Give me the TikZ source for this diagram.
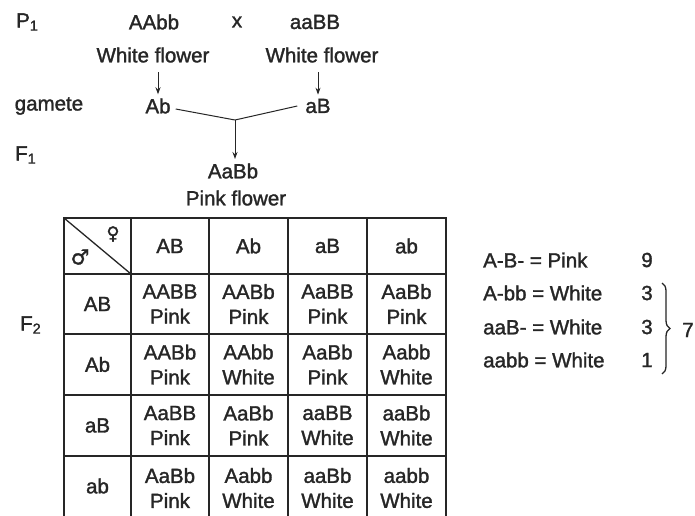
\documentclass[tikz,border=0pt]{standalone}
\usepackage{fontspec}
\setmainfont{Liberation Sans}[FakeBold=1.5]
\newfontfamily\symfont{DejaVu Sans}[FakeBold=1.5]
\usepackage{tikz}
\usetikzlibrary{arrows.meta,decorations.pathreplacing}

\tikzset{
  txt/.style={font=\fontsize{20.5}{25}\selectfont, inner sep=0pt, text=black!85},
  cell/.style={txt, align=center},
  gridline/.style={line width=1.3pt, black!85},
  arr/.style={-{Stealth[length=7pt,width=5pt]}, line width=1pt, black!85},
  joinline/.style={line width=1pt, black!85},
  bracebar/.style={decorate, decoration={brace,amplitude=8pt}, line width=1.3pt, black!85},
}

\begin{document}
\begin{tikzpicture}[x=1pt,y=-1pt]
    \clip (0,0) rectangle (695,515);
    \fill[white] (0,0) rectangle (695,515);
    % Generations
    \node[txt, anchor=west] (pone) at (16,22) {P\textsubscript{1}};
    \node[txt] (gam) at (49,106) {gamete};
    \node[txt, anchor=west] (fone) at (15,155) {F\textsubscript{1}};
    \node[txt, anchor=west] (ftwo) at (20,325) {F\textsubscript{2}};
    % Parents
    \node[txt] (parL) at (154,22) {AAbb};
    \node[txt] (cross) at (237,22) {x};
    \node[txt] (parR) at (315,22) {aaBB};
    \node[txt] (wfL) at (153,55) {White flower};
    \node[txt] (wfR) at (322,55) {White flower};
    % Gametes
    \node[txt] (gAb) at (158,106) {Ab};
    \node[txt] (gaB) at (318,106) {aB};
    \coordinate (jn) at (235,120);
    % Hybrid
    \node[txt] (hyb) at (233,171) {AaBb};
    \node[txt] (pf) at (236,198) {Pink flower};
    % Arrows
    \draw[arr] (158,72) -- ([yshift=4pt]gAb.north);
    \draw[arr] (318,72) -- ([yshift=4pt]gaB.north);
    \draw[joinline] (gAb.east) ++(5,3) -- (jn);
    \draw[joinline] (gaB.west) ++(-8,0) -- (jn);
    \draw[arr] (jn) -- (235,159);
    % Table lines
    \draw[gridline] (64,218) rectangle (446,530);
    \draw[gridline] (64,274) -- (446,274);
    \draw[gridline] (64,334) -- (446,334);
    \draw[gridline] (64,395) -- (446,395);
    \draw[gridline] (64,456) -- (446,456);
    \draw[gridline] (131,218) -- (131,530);
    \draw[gridline] (209,218) -- (209,530);
    \draw[gridline] (288,218) -- (288,530);
    \draw[gridline] (367,218) -- (367,530);
    \draw[gridline] (64,218) -- (131,274);
    % Corner
    \node[txt, font=\symfont\fontsize{18}{18}\selectfont] (fem) at (113,234) {♀};
    \node[txt, font=\symfont\fontsize{21}{21}\selectfont] (mal) at (80,257) {♂};
    % Header
    \node[cell] (hAB) at (170,246) {AB};
    \node[cell] (hAb) at (248.5,246) {Ab};
    \node[cell] (haB) at (327.5,246) {aB};
    \node[cell] (hab) at (406.5,246) {ab};
    \node[cell] (rAB) at (97.5,304) {AB};
    \node[cell] (rAb) at (97.5,364.5) {Ab};
    \node[cell] (raB) at (97.5,425.5) {aB};
    \node[cell] (rab) at (97.5,486) {ab};
    % Row AB
    \node[cell] (c11) at (170,304) {AABB\\Pink};
    \node[cell] (c12) at (248.5,304) {AABb\\Pink};
    \node[cell] (c13) at (327.5,304) {AaBB\\Pink};
    \node[cell] (c14) at (406.5,304) {AaBb\\Pink};
    % Row Ab
    \node[cell] (c21) at (170,364.5) {AABb\\Pink};
    \node[cell] (c22) at (248.5,364.5) {AAbb\\White};
    \node[cell] (c23) at (327.5,364.5) {AaBb\\Pink};
    \node[cell] (c24) at (406.5,364.5) {Aabb\\White};
    % Row aB
    \node[cell] (c31) at (170,425.5) {AaBB\\Pink};
    \node[cell] (c32) at (248.5,425.5) {AaBb\\Pink};
    \node[cell] (c33) at (327.5,425.5) {aaBB\\White};
    \node[cell] (c34) at (406.5,425.5) {aaBb\\White};
    % Row ab
    \node[cell] (c41) at (170,488) {AaBb\\Pink};
    \node[cell] (c42) at (248.5,488) {Aabb\\White};
    \node[cell] (c43) at (327.5,488) {aaBb\\White};
    \node[cell] (c44) at (406.5,488) {aabb\\White};
    % Ratio
    \node[txt, anchor=west] (rPink) at (483,260) {A-B- = Pink};
    \node[txt, anchor=west] (rWa) at (483,293) {A-bb = White};
    \node[txt, anchor=west] (rWb) at (483,327) {aaB- = White};
    \node[txt, anchor=west] (rWc) at (483,360) {aabb = White};
    \node[txt] (nPink) at (647,260) {9};
    \node[txt] (nWa) at (647,293) {3};
    \node[txt] (nWb) at (647,327) {3};
    \node[txt] (nWc) at (647,360) {1};
    \coordinate (bt) at (662,283);
    \coordinate (bb) at (662,374);
    \draw[bracebar] (bt) -- (bb);
    \node[txt] (sev) at (688,330) {7};
\end{tikzpicture}
\end{document}
